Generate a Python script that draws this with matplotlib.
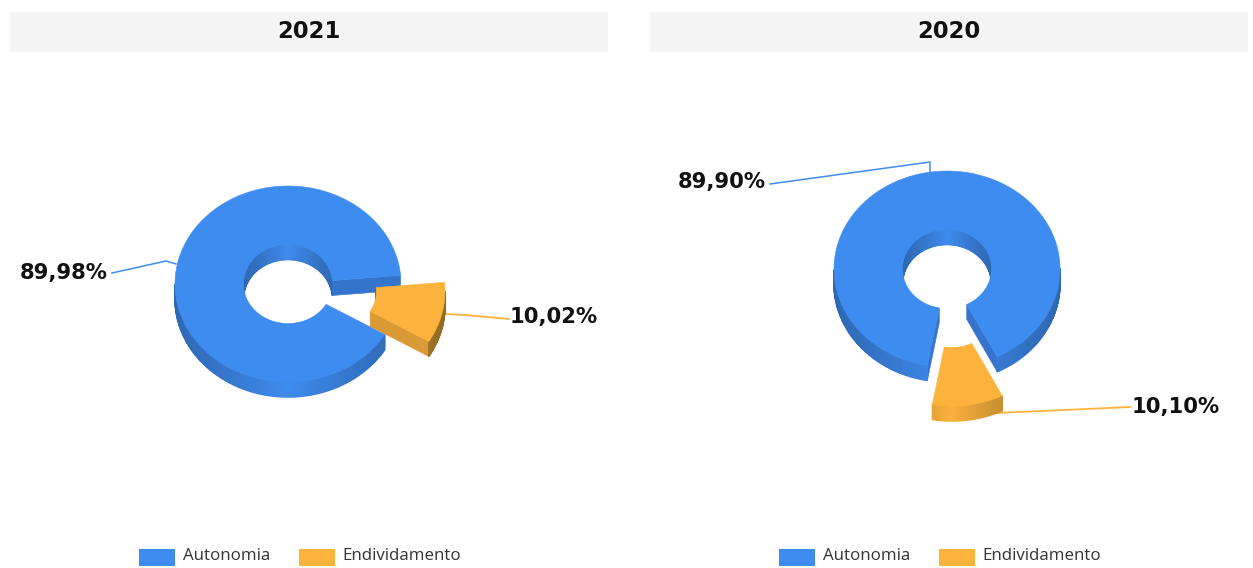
import numpy as np
import matplotlib
matplotlib.use("Agg")
import matplotlib.pyplot as plt

years = ["2021", "2020"]
names = ["Autonomia", "Endividamento"]
autonomia = [89.98, 89.90]
endividamento = [10.02, 10.10]

# layout, in pixels of the 1253x568 picture
panel_x = [0, 640]
centers = [(288, 284), (947, 269)]
orange_start = [-31, -100]
explode = [(44, 7), (5, 39)]
RX, RY = 113, 98
HOLE_RX, HOLE_RY = 44.5, 39.5
DEPTH = 15
BLUE = ("#3F8CF0", "#2E68B2", "#3474CC")
ORANGE = ("#FDB23C", "#8F6A24", "#D99A36")


def mix(c0, c1, t):
    a = np.array(matplotlib.colors.to_rgb(c0))
    b = np.array(matplotlib.colors.to_rgb(c1))
    return tuple(a + (b - a) * t)


def ring_pt(cx, cy, rx, ry, deg, dy=0):
    t = np.radians(deg)
    return cx + rx * np.cos(t), cy - ry * np.sin(t) + dy


def wall(ax, cx, cy, rx, ry, a0, a1, cols, visible, z):
    # side of the ring, cut in short strips so the shade can change
    steps = np.arange(a0, a1, 1.0)
    for a in steps:
        b = min(a + 1.0, a1)
        mid = np.radians((a + b) / 2)
        if not visible(np.sin(mid)):
            continue
        p0 = ring_pt(cx, cy, rx, ry, a)
        p1 = ring_pt(cx, cy, rx, ry, b)
        p2 = ring_pt(cx, cy, rx, ry, b, DEPTH)
        p3 = ring_pt(cx, cy, rx, ry, a, DEPTH)
        col = mix(cols[0], cols[1], min(1, abs(np.cos(mid)) ** 0.9))
        ax.fill(*zip(p0, p1, p2, p3), color=col, lw=1.0, zorder=z)


def cut_face(ax, cx, cy, deg, col, z):
    p0 = ring_pt(cx, cy, HOLE_RX, HOLE_RY, deg)
    p1 = ring_pt(cx, cy, RX, RY, deg)
    p2 = ring_pt(cx, cy, RX, RY, deg, DEPTH)
    p3 = ring_pt(cx, cy, HOLE_RX, HOLE_RY, deg, DEPTH)
    ax.fill(*zip(p0, p1, p2, p3), color=col, lw=0.4, zorder=z)


def wedge(ax, cx, cy, a0, a1, cols, z):
    wall(ax, cx, cy, HOLE_RX, HOLE_RY, a0, a1, cols, lambda s: s > 0, z)
    if np.cos(np.radians(a0)) > 0:
        cut_face(ax, cx, cy, a0, cols[2], z + 1)
    if np.cos(np.radians(a1)) < 0:
        cut_face(ax, cx, cy, a1, cols[2], z + 1)
    wall(ax, cx, cy, RX, RY, a0, a1, cols, lambda s: s < 0, z + 2)
    angles = np.linspace(a0, a1, 240)
    xo, yo = ring_pt(cx, cy, RX, RY, angles)
    xi, yi = ring_pt(cx, cy, HOLE_RX, HOLE_RY, angles[::-1])
    ax.fill(np.r_[xo, xi], np.r_[yo, yi], color=cols[0], lw=0.4, zorder=z + 3)


def pct(v):
    return f"{v:.2f}%".replace(".", ",")


fig = plt.figure(figsize=(12.53, 5.68), dpi=100)
ax = fig.add_axes([0, 0, 1, 1])
ax.set_xlim(0, 1253)
ax.set_ylim(568, 0)
ax.axis("off")

# leader lines and label anchors for each panel
blue_lines = [([112, 166, 176], [273, 261, 264]), ([770, 930, 930], [184, 162, 172])]
orange_lines = [([445, 465, 509], [314, 315, 319]), ([975, 1130], [414, 407])]
blue_text = [(64, 273), (722, 182)]
orange_text = [(554, 317), (1176, 407)]

for i, year in enumerate(years):
    px = panel_x[i]
    ax.add_patch(plt.Rectangle((px + 10, 12), 598, 40, color="#F4F4F4", lw=0))
    ax.text(px + 309, 31, year, ha="center", va="center", fontsize=16.4,
            fontweight="bold", color="#111111")

    cx, cy = centers[i]
    a0 = orange_start[i]
    a1 = a0 + endividamento[i] / 100 * 360
    wedge(ax, cx, cy, a1, a0 + 360, BLUE, 2)
    wedge(ax, cx + explode[i][0], cy + explode[i][1], a0, a1, ORANGE, 8)

    ax.plot(*blue_lines[i], color="#3F8CF0", lw=1.1, zorder=1)
    ax.plot(*orange_lines[i], color="#FDB23C", lw=1.3, zorder=1)
    ax.text(*blue_text[i], pct(autonomia[i]), ha="center", va="center",
            fontsize=15.2, fontweight="bold", color="#111111")
    ax.text(*orange_text[i], pct(endividamento[i]), ha="center", va="center",
            fontsize=15.2, fontweight="bold", color="#111111")

    ax.add_patch(plt.Rectangle((px + 139, 549), 36, 17, color=BLUE[0], lw=0))
    ax.add_patch(plt.Rectangle((px + 299, 549), 36, 17, color=ORANGE[0], lw=0))
    ax.text(px + 183, 556, names[0], ha="left", va="center", fontsize=12.2,
            family="Open Sans", color="#333333")
    ax.text(px + 342, 556, names[1], ha="left", va="center", fontsize=12.2,
            family="Open Sans", color="#333333")

fig.savefig("out.png", dpi=100)
